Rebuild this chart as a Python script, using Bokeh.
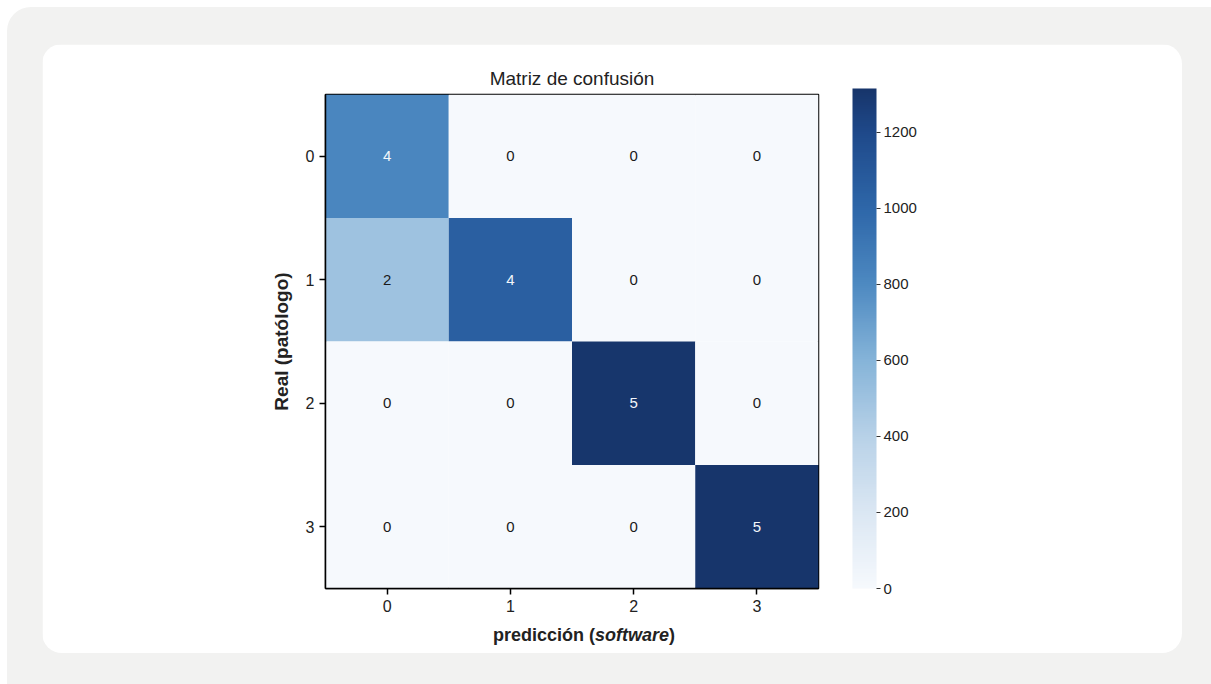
import numpy as np
from bokeh.plotting import figure
from bokeh.models import ColumnDataSource, LinearColorMapper, ColorBar, FixedTicker, Range1d, Div
from bokeh.layouts import column
from bokeh.core.properties import value
from bokeh.transform import transform
from bokeh.embed import file_html
from bokeh.resources import INLINE

# ---- data ----
classes = ["0", "1", "2", "3"]
counts = [[4, 0, 0, 0],
          [2, 4, 0, 0],
          [0, 0, 5, 0],
          [0, 0, 0, 5]]
color_values = [[820, 0, 0, 0],
                [500, 1050, 0, 0],
                [0, 0, 1305, 0],
                [0, 0, 0, 1310]]
cbar_ticks = [0, 200, 400, 600, 800, 1000, 1200]
cbar_low = 0
cbar_high = 1315
title_text = "Matriz de confusión"
ylabel_text = "Real (patólogo)"
xlabel_main = "predicción ("
xlabel_italic = "software"
xlabel_end = ")"

FONT = "Liberation Sans"

# ---- palette (Blues-like, matched to the picture) ----
anchors_pos = [0.0, 0.15, 0.30, 0.46, 0.61, 0.76, 0.91, 1.0]
anchors_col = ["#f6f9fd", "#dbe7f3", "#b9d2e8", "#84b3d8", "#4d89c1", "#2e67a9", "#1f4a8b", "#17356b"]
def hex2rgb(h):
    return [int(h[i:i + 2], 16) for i in (1, 3, 5)]
rgbs = np.array([hex2rgb(c) for c in anchors_col], dtype=float)
ts = np.linspace(0, 1, 256)
palette = []
for t in ts:
    r = np.interp(t, anchors_pos, rgbs[:, 0])
    g = np.interp(t, anchors_pos, rgbs[:, 1])
    b = np.interp(t, anchors_pos, rgbs[:, 2])
    palette.append("#%02x%02x%02x" % (int(round(r)), int(round(g)), int(round(b))))

mapper = LinearColorMapper(palette=palette, low=cbar_low, high=cbar_high)

xs, ys, vs, labels, tcs = [], [], [], [], []
for i in range(len(classes)):
    for j in range(len(classes)):
        xs.append(j)
        ys.append(i)
        vs.append(color_values[i][j])
        labels.append(str(counts[i][j]))
        tcs.append("#f2f6fa" if color_values[i][j] > 700 else "#1a1a1a")
src = ColumnDataSource(dict(x=xs, y=ys, v=vs, label=labels, tc=tcs))

p = figure(width=1140, height=609,
           x_range=Range1d(-0.5, 3.5), y_range=Range1d(3.5, -0.5),
           output_backend="svg", toolbar_location=None,
           min_border_left=283, min_border_right=364,
           min_border_top=50, min_border_bottom=65,
           title=title_text)
p.border_fill_color = "white"
p.background_fill_color = "white"
p.outline_line_color = "black"
p.outline_line_width = 1.5
p.xgrid.grid_line_color = None
p.ygrid.grid_line_color = None

p.title.align = "center"
p.title.text_font = FONT
p.title.text_font_size = "19px"
p.title.text_font_style = "normal"
p.title.text_color = "#222222"
p.title.standoff = 12

p.rect(x="x", y="y", width=1, height=1, source=src,
       fill_color=transform("v", mapper), line_color=None)
p.text(x="x", y="y", text="label", source=src, text_color="tc",
       text_align="center", text_baseline="middle",
       text_font=value(FONT), text_font_size="15px")

for ax in (p.xaxis[0], p.yaxis[0]):
    ax.ticker = FixedTicker(ticks=list(range(len(classes))))
    ax.major_label_overrides = {i: c for i, c in enumerate(classes)}
    ax.major_tick_in = 0
    ax.major_tick_out = 6
    ax.minor_tick_line_color = None
    ax.axis_line_color = "black"
    ax.axis_line_width = 1.5
    ax.major_tick_line_color = "black"
    ax.major_tick_line_width = 1.5
    ax.major_label_text_font = FONT
    ax.major_label_text_font_size = "16px"
    ax.major_label_text_color = "#222222"
    ax.major_label_standoff = 5

p.yaxis.axis_label = ylabel_text
p.yaxis.axis_label_text_font = FONT
p.yaxis.axis_label_text_font_size = "19px"
p.yaxis.axis_label_text_font_style = "bold"
p.yaxis.axis_label_text_color = "#222222"
p.yaxis.axis_label_standoff = 11

cb = ColorBar(color_mapper=mapper, ticker=FixedTicker(ticks=cbar_ticks),
              width=24, height=500, location=(34, 0),
              padding=0, margin=0,
              major_tick_in=0, major_tick_out=4, major_tick_line_color="#333333",
              bar_line_color=None, label_standoff=3,
              major_label_text_font=FONT, major_label_text_font_size="15px",
              major_label_text_color="#222222",
              background_fill_alpha=0, border_line_color=None)
p.add_layout(cb, "right")

p.margin = (37, 0, 0, 35)
p.styles = {"border-radius": "20px", "overflow": "hidden"}

# x axis label with mixed bold / bold-italic styles
xlabel = Div(text="%s<i>%s</i>%s" % (xlabel_main, xlabel_italic, xlabel_end),
             width=240, height=22, margin=(-29, 0, 0, 486),
             styles={"font-family": FONT, "font-size": "18px", "font-weight": "bold",
                     "color": "#222222", "line-height": "22px", "white-space": "nowrap"})

page = column(p, xlabel, width=1204, height=677, margin=(7, 0, 0, 7),
              styles={"background-color": "#f2f2f1", "border-radius": "24px 0 0 0"})

open("out.html", "w").write(file_html(page, INLINE))
